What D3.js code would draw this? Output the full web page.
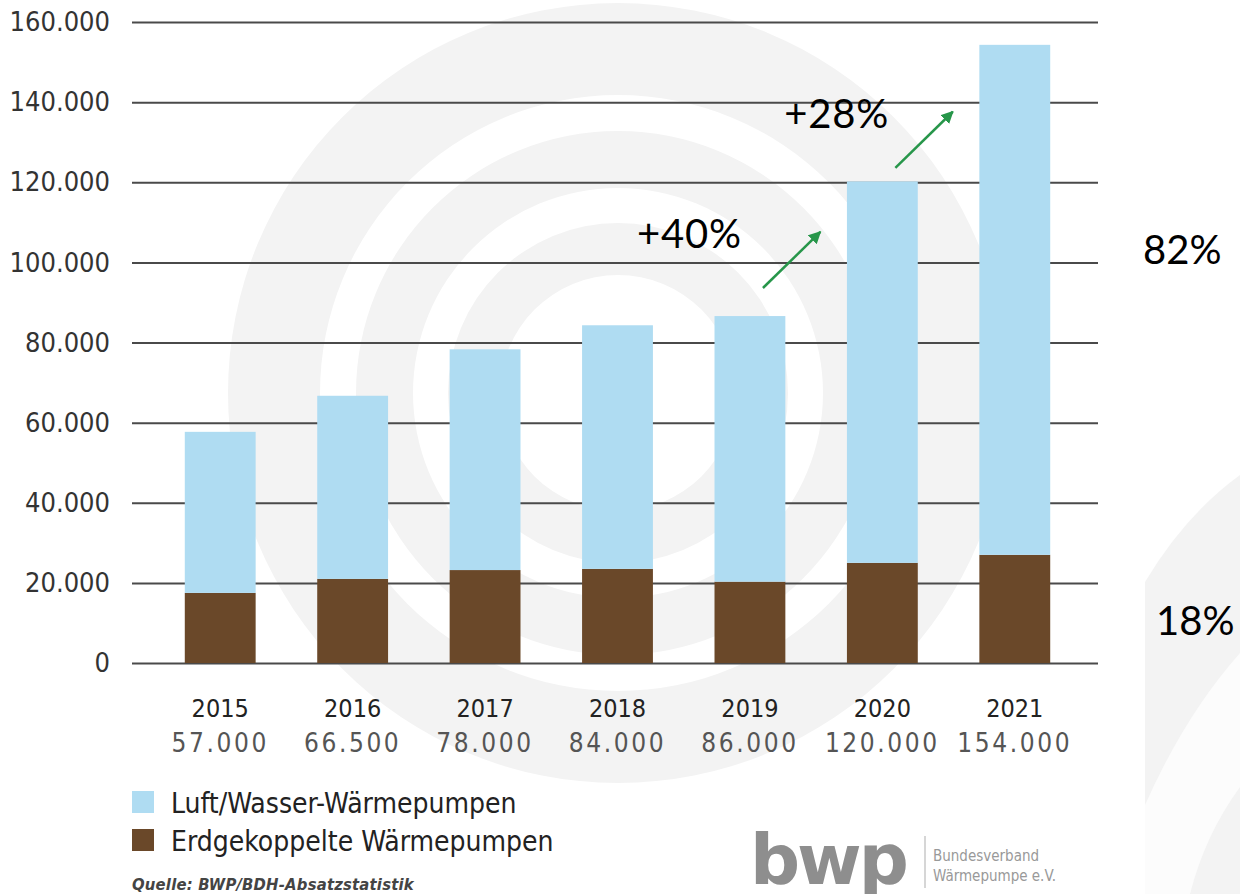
<!DOCTYPE html>
<html>
<head>
<meta charset="utf-8">
<script src="https://cdn.jsdelivr.net/npm/d3@7"></script>
<style>
  body { margin: 0; background: #fff; }
  svg { display: block; }
</style>
</head>
<body>
<div id="chart"></div>
<script>
/* Wärmepumpen Absatz 2015-2021, stacked bars */

const years = ["2015", "2016", "2017", "2018", "2019", "2020", "2021"];
// ground source (brown) and air/water (light blue)
const erdgekoppelt = [17500, 21000, 23200, 23500, 20300, 25000, 27000];
const luftWasser = [40200, 45700, 55100, 60800, 66300, 95200, 127300];
const totalLabels = ["57.000", "66.500", "78.000", "84.000", "86.000", "120.000", "154.000"];
const yTicks = [0, 20000, 40000, 60000, 80000, 100000, 120000, 140000, 160000];
const yTickLabels = ["0", "20.000", "40.000", "60.000", "80.000", "100.000", "120.000", "140.000", "160.000"];
const seriesNames = ["Luft/Wasser-Wärmepumpen", "Erdgekoppelte Wärmepumpen"];
const growthLabels = ["+40%", "+28%"];
const shareLabels = ["82%", "18%"];

const width = 1240,
    height = 894,
    margin = ({top: 22, right: 142, bottom: 231, left: 132});

const blue = "#afdcf2",
    brown = "#6a4829",
    green = "#27964a";

const font = "'DejaVu Sans Condensed', 'DejaVu Sans', sans-serif";

const svg = d3.select("#chart")
    .append("svg")
    .attr("width", width)
    .attr("height", height)
    .attr("viewBox", [0, 0, width, height]);

// --- faint watermark in the background
const wm = svg.append("g").attr("fill", "#f3f3f3");
const ring = d3.arc();
[[298, 390], [205, 262], [118, 170]].forEach(r => {
    wm.append("path")
        .attr("transform", "translate(618,393)")
        .attr("d", ring({innerRadius: r[0], outerRadius: r[1], startAngle: 0, endAngle: 2 * Math.PI}));
});
wm.append("path")
    .attr("d", "M1145,894 L1145,582 Q1185,515 1240,475 L1240,894 Z");
wm.append("path")
    .attr("fill", "#fcfcfc")
    .attr("d", "M1145,805 Q1185,715 1240,653 L1240,787 Q1205,835 1190,894 L1145,894 Z");

// --- scales
const x = d3.scaleBand()
    .domain(years)
    .range([154, 1081])
    .paddingInner(0.465)
    .paddingOuter(0.2325);

const y = d3.scaleLinear()
    .domain([0, 160000])
    .range([height - margin.bottom, margin.top]);

// gridlines + y labels
const yAxis = g => g
    .attr("transform", `translate(${margin.left},0)`)
    .call(d3.axisLeft(y)
        .tickValues(yTicks)
        .tickSize(-(1098 - margin.left))
        .tickPadding(22)
        .tickFormat((d, i) => yTickLabels[i]))
    .call(g => g.select(".domain").remove())
    .call(g => g.selectAll(".tick line").attr("stroke", "#4a4a4a").attr("stroke-width", 2))
    .call(g => g.selectAll(".tick text")
        .attr("fill", "#333")
        .attr("font-family", font)
        .attr("font-size", 27));

svg.append("g").call(yAxis);

// --- stacked bars
const rows = years.map((yr, i) => ({year: yr, erd: erdgekoppelt[i], luft: luftWasser[i]}));
const stack = d3.stack().keys(["erd", "luft"])(rows);
const colors = {erd: brown, luft: blue};

svg.append("g")
    .selectAll("g")
    .data(stack)
    .join("g")
    .attr("fill", d => colors[d.key])
    .selectAll("rect")
    .data(d => d)
    .join("rect")
    .attr("x", d => x(d.data.year))
    .attr("width", x.bandwidth())
    .attr("y", d => y(d[1]))
    .attr("height", d => y(d[0]) - y(d[1]));

// --- x labels: year and total
const xAxis = g => g
    .attr("transform", `translate(0,${y(0)})`)
    .call(d3.axisBottom(x).tickSize(0).tickPadding(36))
    .call(g => g.select(".domain").remove())
    .call(g => g.selectAll(".tick text")
        .attr("fill", "#222")
        .attr("font-family", font)
        .attr("font-size", 25));

svg.append("g").call(xAxis);

svg.append("g")
    .selectAll("text")
    .data(years)
    .join("text")
    .attr("x", d => x(d) + x.bandwidth() / 2)
    .attr("y", y(0) + 89)
    .attr("text-anchor", "middle")
    .attr("fill", "#555")
    .attr("font-family", font)
    .attr("font-size", 26)
    .attr("letter-spacing", 2.6)
    .text((d, i) => totalLabels[i]);

// --- legend
const legend = svg.append("g")
    .selectAll("g")
    .data(seriesNames)
    .join("g")
    .attr("transform", (d, i) => `translate(${margin.left},${791 + i * 38})`);

legend.append("rect")
    .attr("width", 22)
    .attr("height", 22)
    .attr("fill", (d, i) => i === 0 ? blue : brown);

legend.append("text")
    .attr("x", 39)
    .attr("y", 22)
    .attr("fill", "#222")
    .attr("font-family", font)
    .attr("font-size", 28)
    .text(d => d);

svg.append("text")
    .attr("x", margin.left)
    .attr("y", 890)
    .attr("fill", "#444")
    .attr("font-family", font)
    .attr("font-style", "italic")
    .attr("font-weight", "bold")
    .attr("font-size", 16.5)
    .attr("letter-spacing", 0.2)
    .text("Quelle: BWP/BDH-Absatzstatistik");

// --- bwp logo
const logo = svg.append("g").attr("fill", "#8e8e8e");
logo.append("text")
    .attr("x", 750)
    .attr("y", 884)
    .attr("font-family", "'DejaVu Sans', sans-serif")
    .attr("font-weight", "bold")
    .attr("font-size", 70)
    .attr("letter-spacing", -3)
    .text("bwp");
logo.append("line")
    .attr("x1", 925).attr("x2", 925)
    .attr("y1", 836).attr("y2", 888)
    .attr("stroke", "#bbb")
    .attr("stroke-width", 1.2);
logo.selectAll(".sub")
    .data(["Bundesverband", "Wärmepumpe e.V."])
    .join("text")
    .attr("class", "sub")
    .attr("x", 933)
    .attr("y", (d, i) => 861 + i * 20)
    .attr("fill", "#999")
    .attr("font-family", font)
    .attr("font-size", 15)
    .text(d => d);

// --- growth annotations (arrows between years)
svg.append("defs").append("marker")
    .attr("id", "head")
    .attr("viewBox", "0 0 10 10")
    .attr("refX", 9).attr("refY", 5)
    .attr("markerWidth", 5).attr("markerHeight", 5)
    .attr("orient", "auto")
    .append("path")
    .attr("d", "M0,0 L10,5 L0,10 Z")
    .attr("fill", green);

const arrows = [
    {from: "2019", to: "2020", v0: 93600, v1: 107600},
    {from: "2020", to: "2021", v0: 123600, v1: 137600}
];
const bw = x.bandwidth();
arrows.forEach((a, i) => {
    const x0 = x(a.from) + bw / 2 + 13,
        x1 = x(a.to) + bw / 2 - 62;
    svg.append("line")
        .attr("x1", x0).attr("y1", y(a.v0))
        .attr("x2", x1).attr("y2", y(a.v1))
        .attr("stroke", green)
        .attr("stroke-width", 2.5)
        .attr("marker-end", "url(#head)");
    svg.append("text")
        .attr("x", x0 - 126 + (i === 1 ? 15 : 0))
        .attr("y", y(a.v1) + 16)
        .attr("font-family", "Lato, 'Open Sans', sans-serif")
        .attr("font-size", 40)
        .attr("letter-spacing", 0.8)
        .attr("fill", "#000")
        .text(growthLabels[i]);
});

// share labels on the right
svg.selectAll(".share")
    .data([{t: shareLabels[0], v: 99600, dx: 0}, {t: shareLabels[1], v: 7000, dx: 13}])
    .join("text")
    .attr("class", "share")
    .attr("x", d => 1143 + d.dx)
    .attr("y", d => y(d.v))
    .attr("font-family", "Lato, 'Open Sans', sans-serif")
    .attr("font-size", 40)
    .attr("fill", "#000")
    .text(d => d.t);
</script>
</body>
</html>
